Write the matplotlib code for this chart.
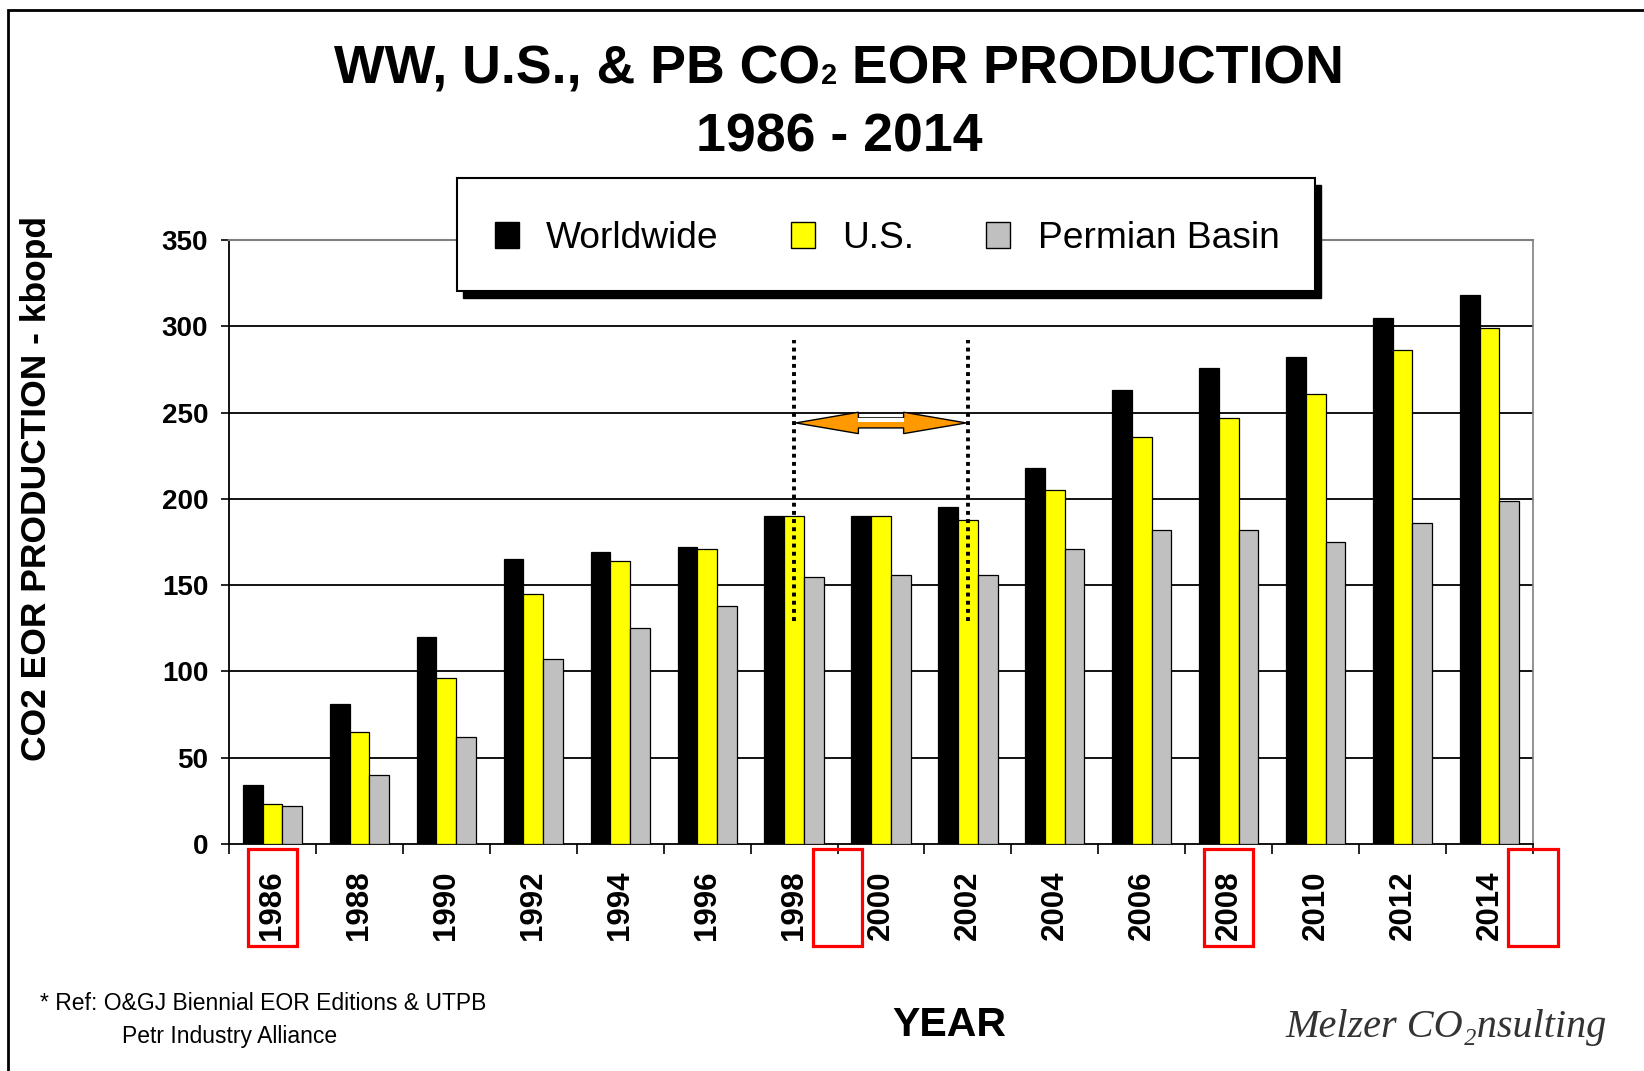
import matplotlib
matplotlib.use("Agg")
import matplotlib.pyplot as plt
import numpy as np
from matplotlib.patches import Rectangle, Polygon
import matplotlib.transforms as mtransforms

# ---------------- data ----------------
years = ["1986", "1988", "1990", "1992", "1994", "1996", "1998", "2000",
         "2002", "2004", "2006", "2008", "2010", "2012", "2014"]
worldwide = [34, 81, 120, 165, 169, 172, 190, 190, 195, 218, 263, 276, 282, 305, 318]
us = [23, 65, 96, 145, 164, 171, 190, 190, 188, 205, 236, 247, 261, 286, 299]
permian = [22, 40, 62, 107, 125, 138, 155, 156, 156, 171, 182, 182, 175, 186, 199]
series_names = ["Worldwide", "U.S.", "Permian Basin"]
series_colors = ["#000000", "#FFFF00", "#C0C0C0"]
y_ticks = [0, 50, 100, 150, 200, 250, 300, 350]

# annotations (category index based)
red_box_centers = [0, 6.5, 11, 14.5]
dotted_idx = [6, 8]
dotted_lo, dotted_hi = 129, 292
arrow_level = 244

# ---------------- style ----------------
plt.rcParams["font.family"] = ["Liberation Sans", "DejaVu Sans"]

W, H = 1644, 1071
fig = plt.figure(figsize=(W / 100, H / 100), dpi=100)
fig.patch.set_facecolor("white")

def fx(px):
    return px / W

def fy(py):
    return 1 - py / H

ax = fig.add_axes([fx(229), fy(844), fx(1533) - fx(229), fy(240) - fy(844)])

x = np.arange(len(years))
bw = 0.227
data = [worldwide, us, permian]
for k, (vals, col) in enumerate(zip(data, series_colors)):
    ax.bar(x + (k - 1) * bw, vals, width=bw, color=col, edgecolor="black",
           linewidth=0.9, zorder=3)

ax.set_xlim(-0.5, len(years) - 0.5)
ax.set_ylim(0, 350)
ax.set_yticks(y_ticks)
ax.set_yticklabels([str(v) for v in y_ticks], fontsize=20, fontweight="bold")
ax.set_xticks(x)
ax.set_xticklabels(years, rotation=90, fontsize=22.5, fontweight="bold")
ax.set_xticks(np.arange(-0.5, len(years), 1.0), minor=True)
ax.tick_params(axis="x", which="major", length=0, pad=19)
ax.tick_params(axis="x", which="minor", length=7.5, width=1.2, direction="out")
ax.tick_params(axis="y", length=6, width=1.2, direction="out", pad=9)

for v in y_ticks[1:-1]:
    ax.axhline(v, color="black", linewidth=1.3, zorder=1)
ax.spines["left"].set_linewidth(1.3)
ax.spines["bottom"].set_linewidth(1.3)
ax.spines["top"].set_color("#808080")
ax.spines["right"].set_color("#808080")
ax.spines["top"].set_linewidth(1.5)
ax.spines["right"].set_linewidth(1.2)

# y-axis label
fig.text(fx(37), fy(489), "CO2 EOR PRODUCTION - kbopd", rotation=90,
         ha="center", va="center", fontsize=25.5, fontweight="bold")

# dotted vertical lines
for i in dotted_idx:
    ax.plot([i, i], [dotted_lo, dotted_hi], color="black", linewidth=2.8,
            linestyle=(0, (1, 1.1)), zorder=5)

# orange double arrow
a0, a1 = dotted_idx[0] + 0.02, dotted_idx[1] - 0.02
hl = 0.72
sh = 2.9
hh = 6.2
pts = [(a0, arrow_level), (a0 + hl, arrow_level + hh), (a0 + hl, arrow_level + sh),
       (a1 - hl, arrow_level + sh), (a1 - hl, arrow_level + hh), (a1, arrow_level),
       (a1 - hl, arrow_level - hh), (a1 - hl, arrow_level - sh),
       (a0 + hl, arrow_level - sh), (a0 + hl, arrow_level - hh)]
ax.add_patch(Polygon(pts, closed=True, facecolor="#FF9900", edgecolor="black",
                     linewidth=1.0, zorder=6))
ax.add_patch(Rectangle((a0 + hl, arrow_level + sh * 0.25), (a1 - a0) - 2 * hl,
                       sh * 0.7, facecolor="white", edgecolor="none", zorder=6.5))

# red boxes around x labels
trans = mtransforms.blended_transform_factory(ax.transData, ax.transAxes)
box_w = 0.565
for c in red_box_centers:
    ax.add_patch(Rectangle((c - box_w / 2, -0.169), box_w, 0.161, transform=trans,
                           fill=False, edgecolor="#FF0000", linewidth=2.3,
                           clip_on=False, zorder=7))

# ---------------- titles ----------------
renderer = fig.canvas.get_renderer()
title_parts = [("WW, U.S., & PB CO", 38.6), ("2", 21), (" EOR PRODUCTION", 38.6)]
tmp = [fig.text(0, 0, s, fontsize=fs, fontweight="bold") for s, fs in title_parts]
widths = [t.get_window_extent(renderer).width for t in tmp]
for t in tmp:
    t.remove()
xs = 839 - sum(widths) / 2
for (s, fs), wdt in zip(title_parts, widths):
    fig.text(fx(xs), fy(84), s, ha="left", va="baseline", fontsize=fs,
             fontweight="bold")
    xs += wdt
fig.text(fx(839), fy(152), "1986 - 2014", ha="center", va="baseline",
         fontsize=38.6, fontweight="bold")

# ---------------- legend box ----------------
lx0, ly0, lx1, ly1 = 457, 178, 1315, 291
fig.patches.append(Rectangle((fx(lx0 + 6), fy(ly1 + 7)), fx(lx1 - lx0), fy(ly0) - fy(ly1),
                             transform=fig.transFigure, facecolor="black",
                             edgecolor="black", zorder=4))
fig.patches.append(Rectangle((fx(lx0), fy(ly1)), fx(lx1 - lx0), fy(ly0) - fy(ly1),
                             transform=fig.transFigure, facecolor="white",
                             edgecolor="black", linewidth=1.5, zorder=4.5))
handles = [Rectangle((0, 0), 1, 1, facecolor=c, edgecolor="black", linewidth=1.0)
           for c in series_colors]
fig.legend(handles, series_names, loc="center",
           bbox_to_anchor=(fx((lx0 + lx1) / 2 + 1), fy(238)), ncol=3,
           frameon=False, fontsize=26.7, handlelength=0.65, handleheight=0.7,
           handletextpad=0.73, columnspacing=1.95)

# ---------------- footer ----------------
fig.text(fx(40), fy(1003), "* Ref: O&GJ Biennial EOR Editions & UTPB",
         ha="left", va="center", fontsize=16.5)
fig.text(fx(122), fy(1037), "Petr Industry Alliance", ha="left", va="center",
         fontsize=16.5)
fig.text(fx(949), fy(1025), "YEAR", ha="center", va="center", fontsize=29.5,
         fontweight="bold")
fig.text(fx(1446), fy(1027), "Melzer CO\u2082nsulting", ha="center", va="center",
         fontsize=29, style="italic", color="#333333",
         family=["Liberation Serif", "DejaVu Serif"])

# slide frame
fig.patches.append(Rectangle((fx(8), -0.1), 1.2, fy(10.5) + 0.1,
                             transform=fig.transFigure, fill=False,
                             edgecolor="black", linewidth=2.0, zorder=10))

fig.savefig("out.png", dpi=100)
